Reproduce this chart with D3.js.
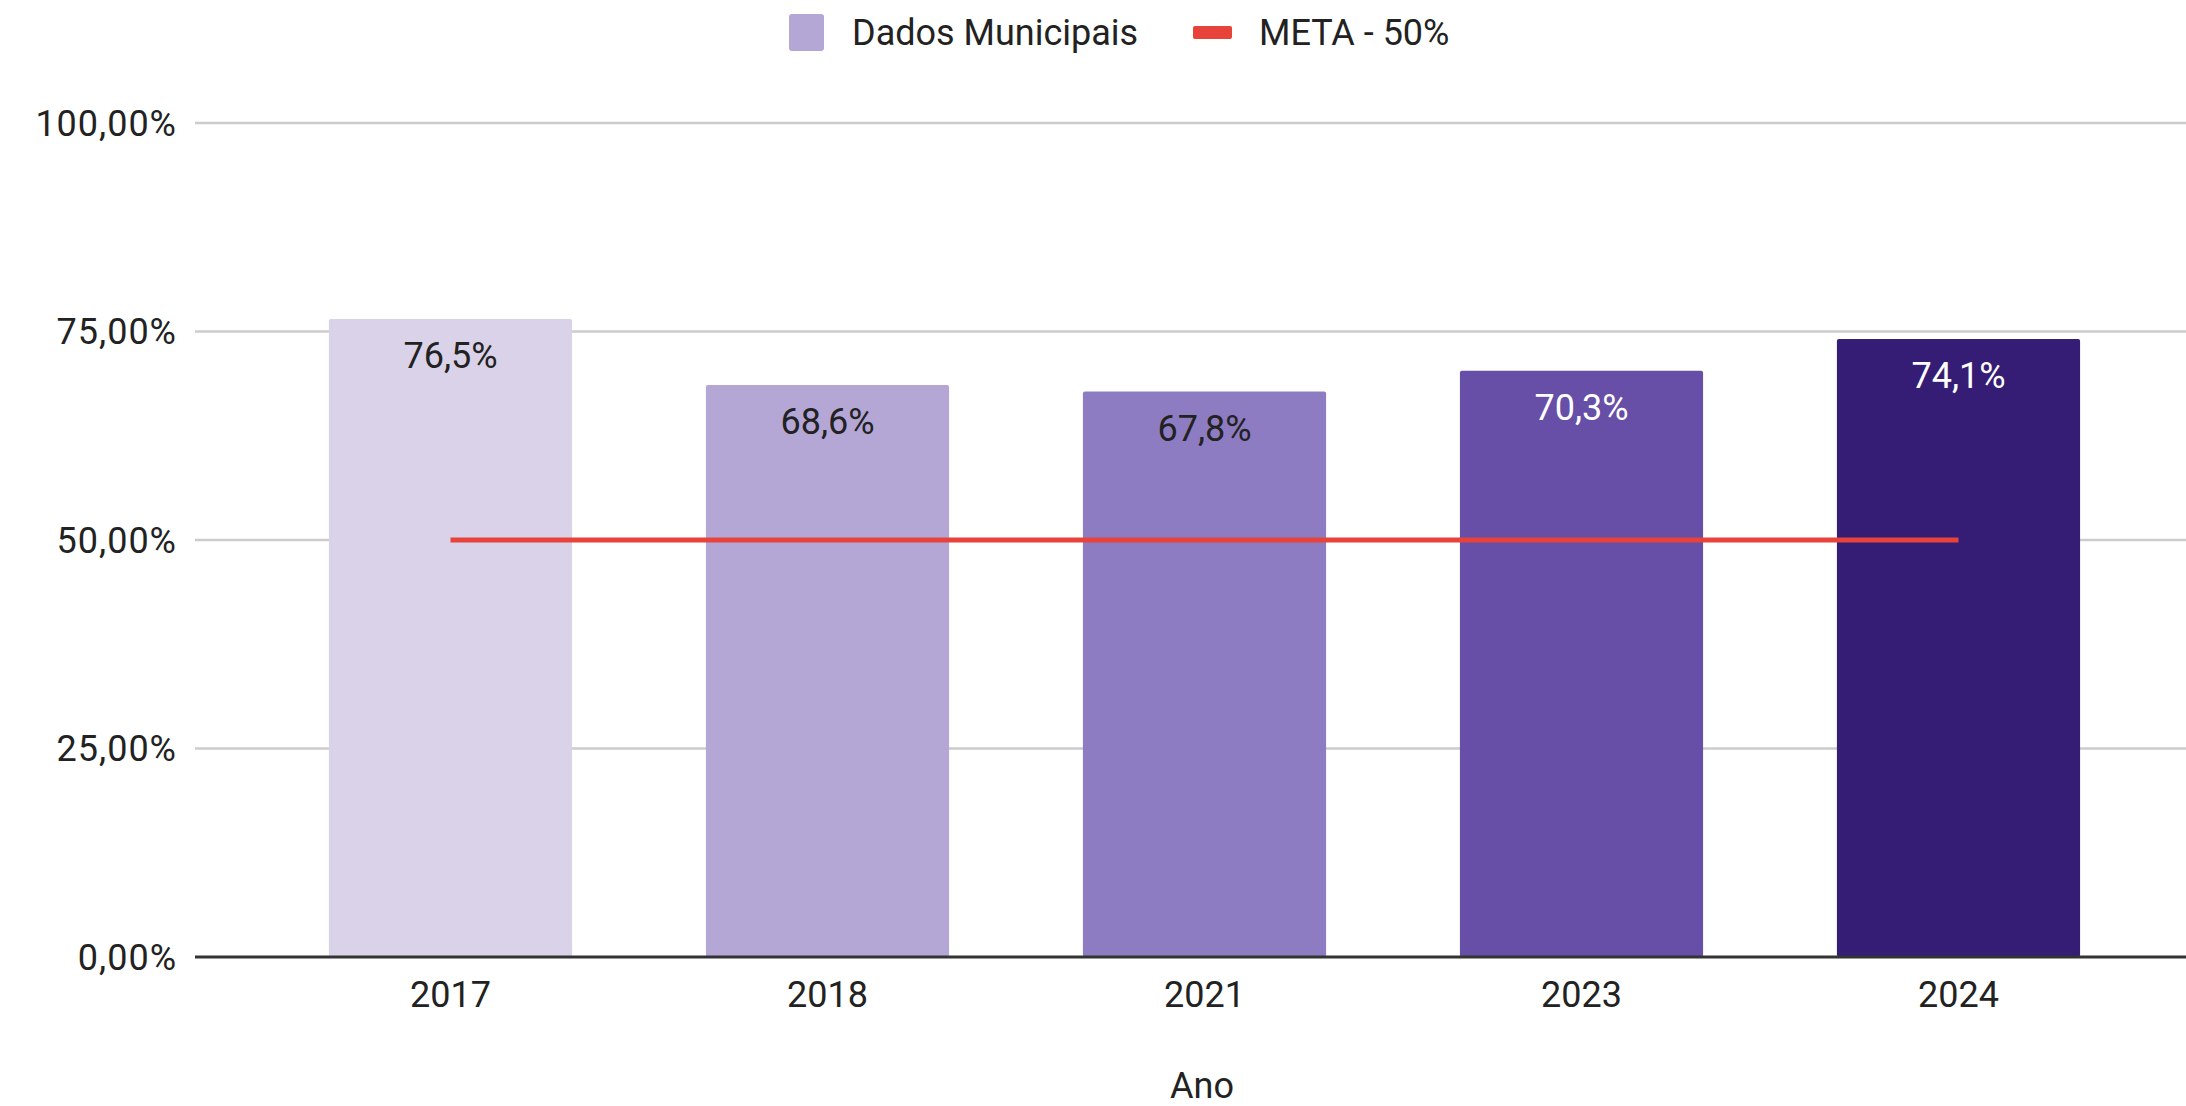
<!DOCTYPE html>
<html lang="pt">
<head>
    <meta charset="utf-8">
    <script src="https://cdn.jsdelivr.net/npm/d3@7"></script>
    <style>
        body { margin: 0; background: #fff; }
        text { font-family: Roboto, "Noto Sans", sans-serif; }
    </style>
</head>
<body>
<script>

    var years = ["2017", "2018", "2021", "2023", "2024"];
    var values = [76.5, 68.6, 67.8, 70.3, 74.1];
    var barColors = ["#d9d2e9", "#b4a7d6", "#8e7cc3", "#674ea7", "#351c75"];
    var labelColors = ["#222", "#222", "#222", "#fff", "#fff"];
    var meta = 50;
    var yTicks = [0, 25, 50, 75, 100];

    var width = 2186,
        height = 1106,
        plotLeft = 195,
        plotRight = 2186,
        plotTop = 123,
        plotBottom = 957;

    var svg = d3.select("body").append("svg")
            .attr("width", width)
            .attr("height", height);

    var x = d3.scaleBand()
            .domain(years)
            .range([262, 2147])
            .paddingInner(0.355)
            .paddingOuter(0.1775);

    var y = d3.scaleLinear()
            .domain([0, 100])
            .range([plotBottom, plotTop]);

    var fmt = function(v, dec) {
        return v.toFixed(dec).replace(".", ",") + "%";
    };

    /*
    grid
     */
    svg.append("g")
            .selectAll("line")
            .data(yTicks.filter(function(d){ return d > 0; }))
            .enter()
            .append("line")
            .attr("x1", plotLeft)
            .attr("x2", plotRight)
            .attr("y1", function(d){ return y(d); })
            .attr("y2", function(d){ return y(d); })
            .style("stroke", "#cccccc")
            .style("stroke-width", 2.5);

    // y tick labels
    svg.append("g")
            .selectAll("text")
            .data(yTicks)
            .enter()
            .append("text")
            .attr("x", 177)
            .attr("y", function(d){ return y(d); })
            .attr("dy", "0.36em")
            .attr("text-anchor", "end")
            .style("font-size", "36px")
            .style("letter-spacing", "1px")
            .style("fill", "#222")
            .text(function(d){ return fmt(d, 2); });

    /*
    bars
     */
    svg.append("g")
            .selectAll("rect")
            .data(values)
            .enter()
            .append("rect")
            .attr("x", function(d, i){ return x(years[i]); })
            .attr("y", function(d){ return y(d); })
            .attr("width", x.bandwidth())
            .attr("height", function(d){ return plotBottom - y(d); })
            .attr("rx", 2)
            .style("fill", function(d, i){ return barColors[i]; });

    // value labels
    svg.append("g")
            .selectAll("text")
            .data(values)
            .enter()
            .append("text")
            .attr("x", function(d, i){ return x(years[i]) + x.bandwidth() / 2; })
            .attr("y", function(d){ return y(d) + 49; })
            .attr("text-anchor", "middle")
            .style("font-size", "36px")
            .style("fill", function(d, i){ return labelColors[i]; })
            .text(function(d){ return fmt(d, 1); });

    /*
    meta line
     */
    svg.append("line")
            .attr("x1", x(years[0]) + x.bandwidth() / 2)
            .attr("x2", x(years[years.length - 1]) + x.bandwidth() / 2)
            .attr("y1", y(meta))
            .attr("y2", y(meta))
            .style("stroke", "#e8433a")
            .style("stroke-width", 5);

    // x axis
    svg.append("line")
            .attr("x1", plotLeft)
            .attr("x2", plotRight)
            .attr("y1", plotBottom)
            .attr("y2", plotBottom)
            .style("stroke", "#333")
            .style("stroke-width", 3);

    svg.append("g")
            .selectAll("text")
            .data(years)
            .enter()
            .append("text")
            .attr("x", function(d){ return x(d) + x.bandwidth() / 2; })
            .attr("y", 1007)
            .attr("text-anchor", "middle")
            .style("font-size", "36px")
            .style("fill", "#222")
            .text(function(d){ return d; });

    svg.append("text")
            .attr("x", 1202)
            .attr("y", 1098)
            .attr("text-anchor", "middle")
            .style("font-size", "36px")
            .style("fill", "#222")
            .text("Ano");

    /*
    legend
     */
    var legend = svg.append("g");
    legend.append("rect")
            .attr("x", 789)
            .attr("y", 14)
            .attr("width", 35)
            .attr("height", 37)
            .attr("rx", 3)
            .style("fill", "#b4a7d6");
    legend.append("text")
            .attr("x", 852)
            .attr("y", 45)
            .style("font-size", "36px")
            .style("fill", "#222")
            .text("Dados Municipais");
    legend.append("rect")
            .attr("x", 1193)
            .attr("y", 26)
            .attr("width", 39)
            .attr("height", 13)
            .attr("rx", 2)
            .style("fill", "#e8433a");
    legend.append("text")
            .attr("x", 1259)
            .attr("y", 45)
            .style("font-size", "36px")
            .style("fill", "#222")
            .text("META - 50%");

</script>
</body>
</html>
